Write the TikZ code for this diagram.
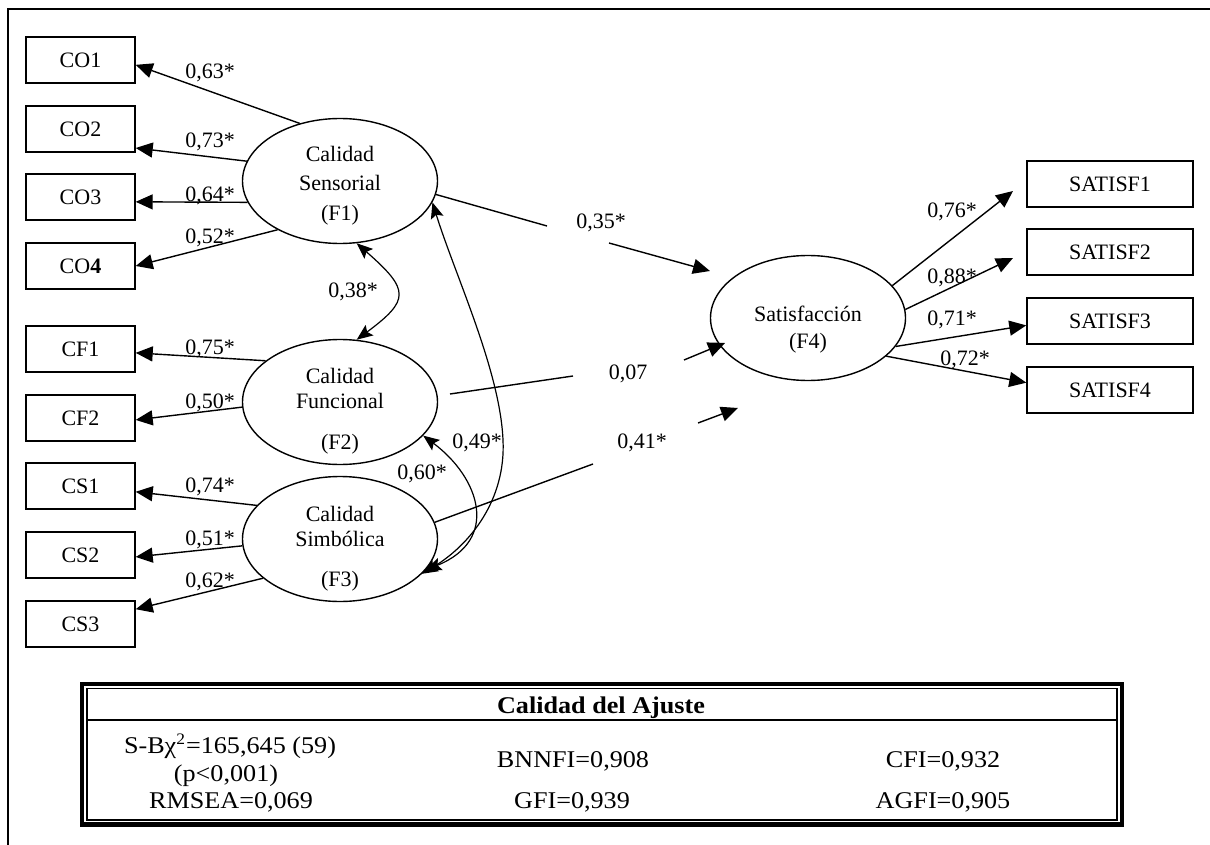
\documentclass[tikz,border=0pt]{standalone}
\usepackage{fontspec}
\setmainfont{Liberation Serif}
\newfontfamily\tabfont{Liberation Serif}[FakeStretch=1.09]
\usetikzlibrary{shapes.geometric,arrows.meta}

\tikzset{
  obs/.style={draw, line width=0.7pt, minimum width=54.5pt, minimum height=23pt,
              inner sep=0pt, font=\fontsize{11}{13}\selectfont, text height=7.3pt, text depth=0pt},
  obsr/.style={obs, minimum width=83pt},
  lat/.style={draw, ellipse, line width=0.7pt, minimum width=97.5pt, minimum height=62.5pt, inner sep=0pt},
  txt/.style={inner sep=0pt, font=\fontsize{11}{13}\selectfont, text height=7.3pt, text depth=0pt},
  num/.style={txt},
  tab/.style={inner sep=0pt, font=\tabfont\fontsize{12}{14}\selectfont, text height=8pt, text depth=0pt},
  plain/.style={line width=0.7pt},
  load/.style={line width=0.7pt, -{Triangle[length=8.5pt,width=7.5pt]}},
  cov/.style={line width=0.6pt, {Stealth[length=8pt,width=6.5pt,inset=1.5pt]}-{Stealth[length=8pt,width=6.5pt,inset=1.5pt]}},
}

\begin{document}
\begin{tikzpicture}[x=0.5pt,y=-0.5pt]
\useasboundingbox (0,0) rectangle (1210,845);

% frame
\draw[line width=0.75pt] (8,845) -- (8,9) -- (1210,9);

% observed indicators, left
\node[obs] (CO1) at (80.5,60)  {CO1};
\node[obs] (CO2) at (80.5,129) {CO2};
\node[obs] (CO3) at (80.5,197) {CO3};
\node[obs] (CO4) at (80.5,266) {CO\textbf{4}};
\node[obs] (CF1) at (80.5,349) {CF1};
\node[obs] (CF2) at (80.5,418) {CF2};
\node[obs] (CS1) at (80.5,486) {CS1};
\node[obs] (CS2) at (80.5,555) {CS2};
\node[obs] (CS3) at (80.5,624) {CS3};

% observed indicators, right
\node[obsr] (SAT1) at (1110,184) {SATISF1};
\node[obsr] (SAT2) at (1110,252) {SATISF2};
\node[obsr] (SAT3) at (1110,321) {SATISF3};
\node[obsr] (SAT4) at (1110,390) {SATISF4};

% latent factors
\node[lat] (F1) at (340,181) {};
\node[txt] (F1a) at (340,154) {Calidad};
\node[txt] (F1b) at (340,183) {Sensorial};
\node[txt] (F1c) at (340,213) {(F1)};

\node[lat] (F2) at (340,402) {};
\node[txt] (F2a) at (340,376) {Calidad};
\node[txt] (F2b) at (340,401) {Funcional};
\node[txt] (F2c) at (340,442) {(F2)};

\node[lat] (F3) at (340,539) {};
\node[txt] (F3a) at (340,514) {Calidad};
\node[txt] (F3b) at (340,539) {Simbólica};
\node[txt] (F3c) at (340,579) {(F3)};

\node[lat] (F4) at (808,318) {};
\node[txt] (F4a) at (808,314) {Satisfacción};
\node[txt] (F4b) at (808,341) {(F4)};

% loadings, left
\draw[load] (F1.125) -- (CO1.-5);
\draw[load] (F1.168) -- (CO2.-19);
\draw[load] (F1.193) -- (CO3.-5);
\draw[load] (F1.218) -- (CO4.east);
\draw[load] (F2.151) -- (CF1.-4);
\draw[load] (F2.183) -- (CF2.-2);
\draw[load] (F3.158) -- (CS1.-6);
\draw[load] (F3.184) -- (CS2.-2);
\draw[load] (F3.207) -- (CS3.15);

\node[num] (l1) at (210,71)  {0,63*};
\node[num] (l2) at (210,140) {0,73*};
\node[num] (l3) at (210,194) {0,64*};
\node[num] (l4) at (210,236) {0,52*};
\node[num] (l5) at (210,347) {0,75*};
\node[num] (l6) at (210,401) {0,50*};
\node[num] (l7) at (210,485) {0,74*};
\node[num] (l8) at (210,538) {0,51*};
\node[num] (l9) at (210,580) {0,62*};

% loadings, right
\coordinate (s1) at (1013,191);
\coordinate (s2) at (1013,258);
\draw[load] (F4.21) -- (s1);
\draw[load] (F4.5) -- (s2);
\draw[load] (F4.-18) -- (SAT3.183);
\draw[load] (F4.-26) -- (SAT4.175);

\node[num] (r1) at (952,210) {0,76*};
\node[num] (r2) at (952,276) {0,88*};
\node[num] (r3) at (952,318) {0,71*};
\node[num] (r4) at (965,358) {0,72*};

% structural paths
\coordinate (p1a) at (547,226);
\coordinate (p1b) at (609,243);
\coordinate (p1c) at (710,271);
\draw[plain] (F1.-8) -- (p1a);
\draw[load] (p1b) -- (p1c);
\node[num] (b1) at (601,221) {0,35*};

\coordinate (p2o) at (450,394);
\coordinate (p2a) at (573,376);
\coordinate (p2b) at (684,360);
\coordinate (p2c) at (725,343);
\draw[plain] (p2o) -- (p2a);
\draw[load] (p2b) -- (p2c);
\node[num] (b2) at (628,372) {0,07};

\coordinate (p3a) at (593,464);
\coordinate (p3b) at (698,423);
\coordinate (p3c) at (738,408);
\draw[plain] (F3.10) -- (p3a);
\draw[load] (p3b) -- (p3c);
\node[num] (b3) at (642,441) {0,41*};

% covariances
\draw[cov] (F1.-75) .. controls (410,290) and (410,300) .. (F2.75);
\node[num] (c1) at (353,290) {0,38*};
\draw[cov] (F1.-13) .. controls (455,275) and (500,370) .. (503,440)
                    .. controls (506,500) and (470,545) .. (F3.-23);
\node[num] (c2) at (477,441) {0,49*};
\draw[cov] (F2.-22) .. controls (480,478) and (500,540) .. (F3.-20);
\node[num] (c3) at (422,472) {0,60*};

% fit table
\draw[line width=2.2pt] (82,684) rectangle (1122,824.5);
\draw[line width=0.75pt] (87,688.5) rectangle (1117,820);
\draw[line width=1.3pt] (87,720) -- (1117,720);
\node[tab, font=\tabfont\fontsize{12}{14}\selectfont\bfseries] (t0) at (601,705) {Calidad del Ajuste};
\node[tab] (t1) at (230,745) {S-Bχ\textsuperscript{2}=165,645 (59)};
\node[tab] (t2) at (226,773) {(p<0,001)};
\node[tab] (t3) at (231,800) {RMSEA=0,069};
\node[tab] (t4) at (573,759) {BNNFI=0,908};
\node[tab] (t5) at (572,800) {GFI=0,939};
\node[tab] (t6) at (943,759) {CFI=0,932};
\node[tab] (t7) at (943,800) {AGFI=0,905};
\end{tikzpicture}
\end{document}
